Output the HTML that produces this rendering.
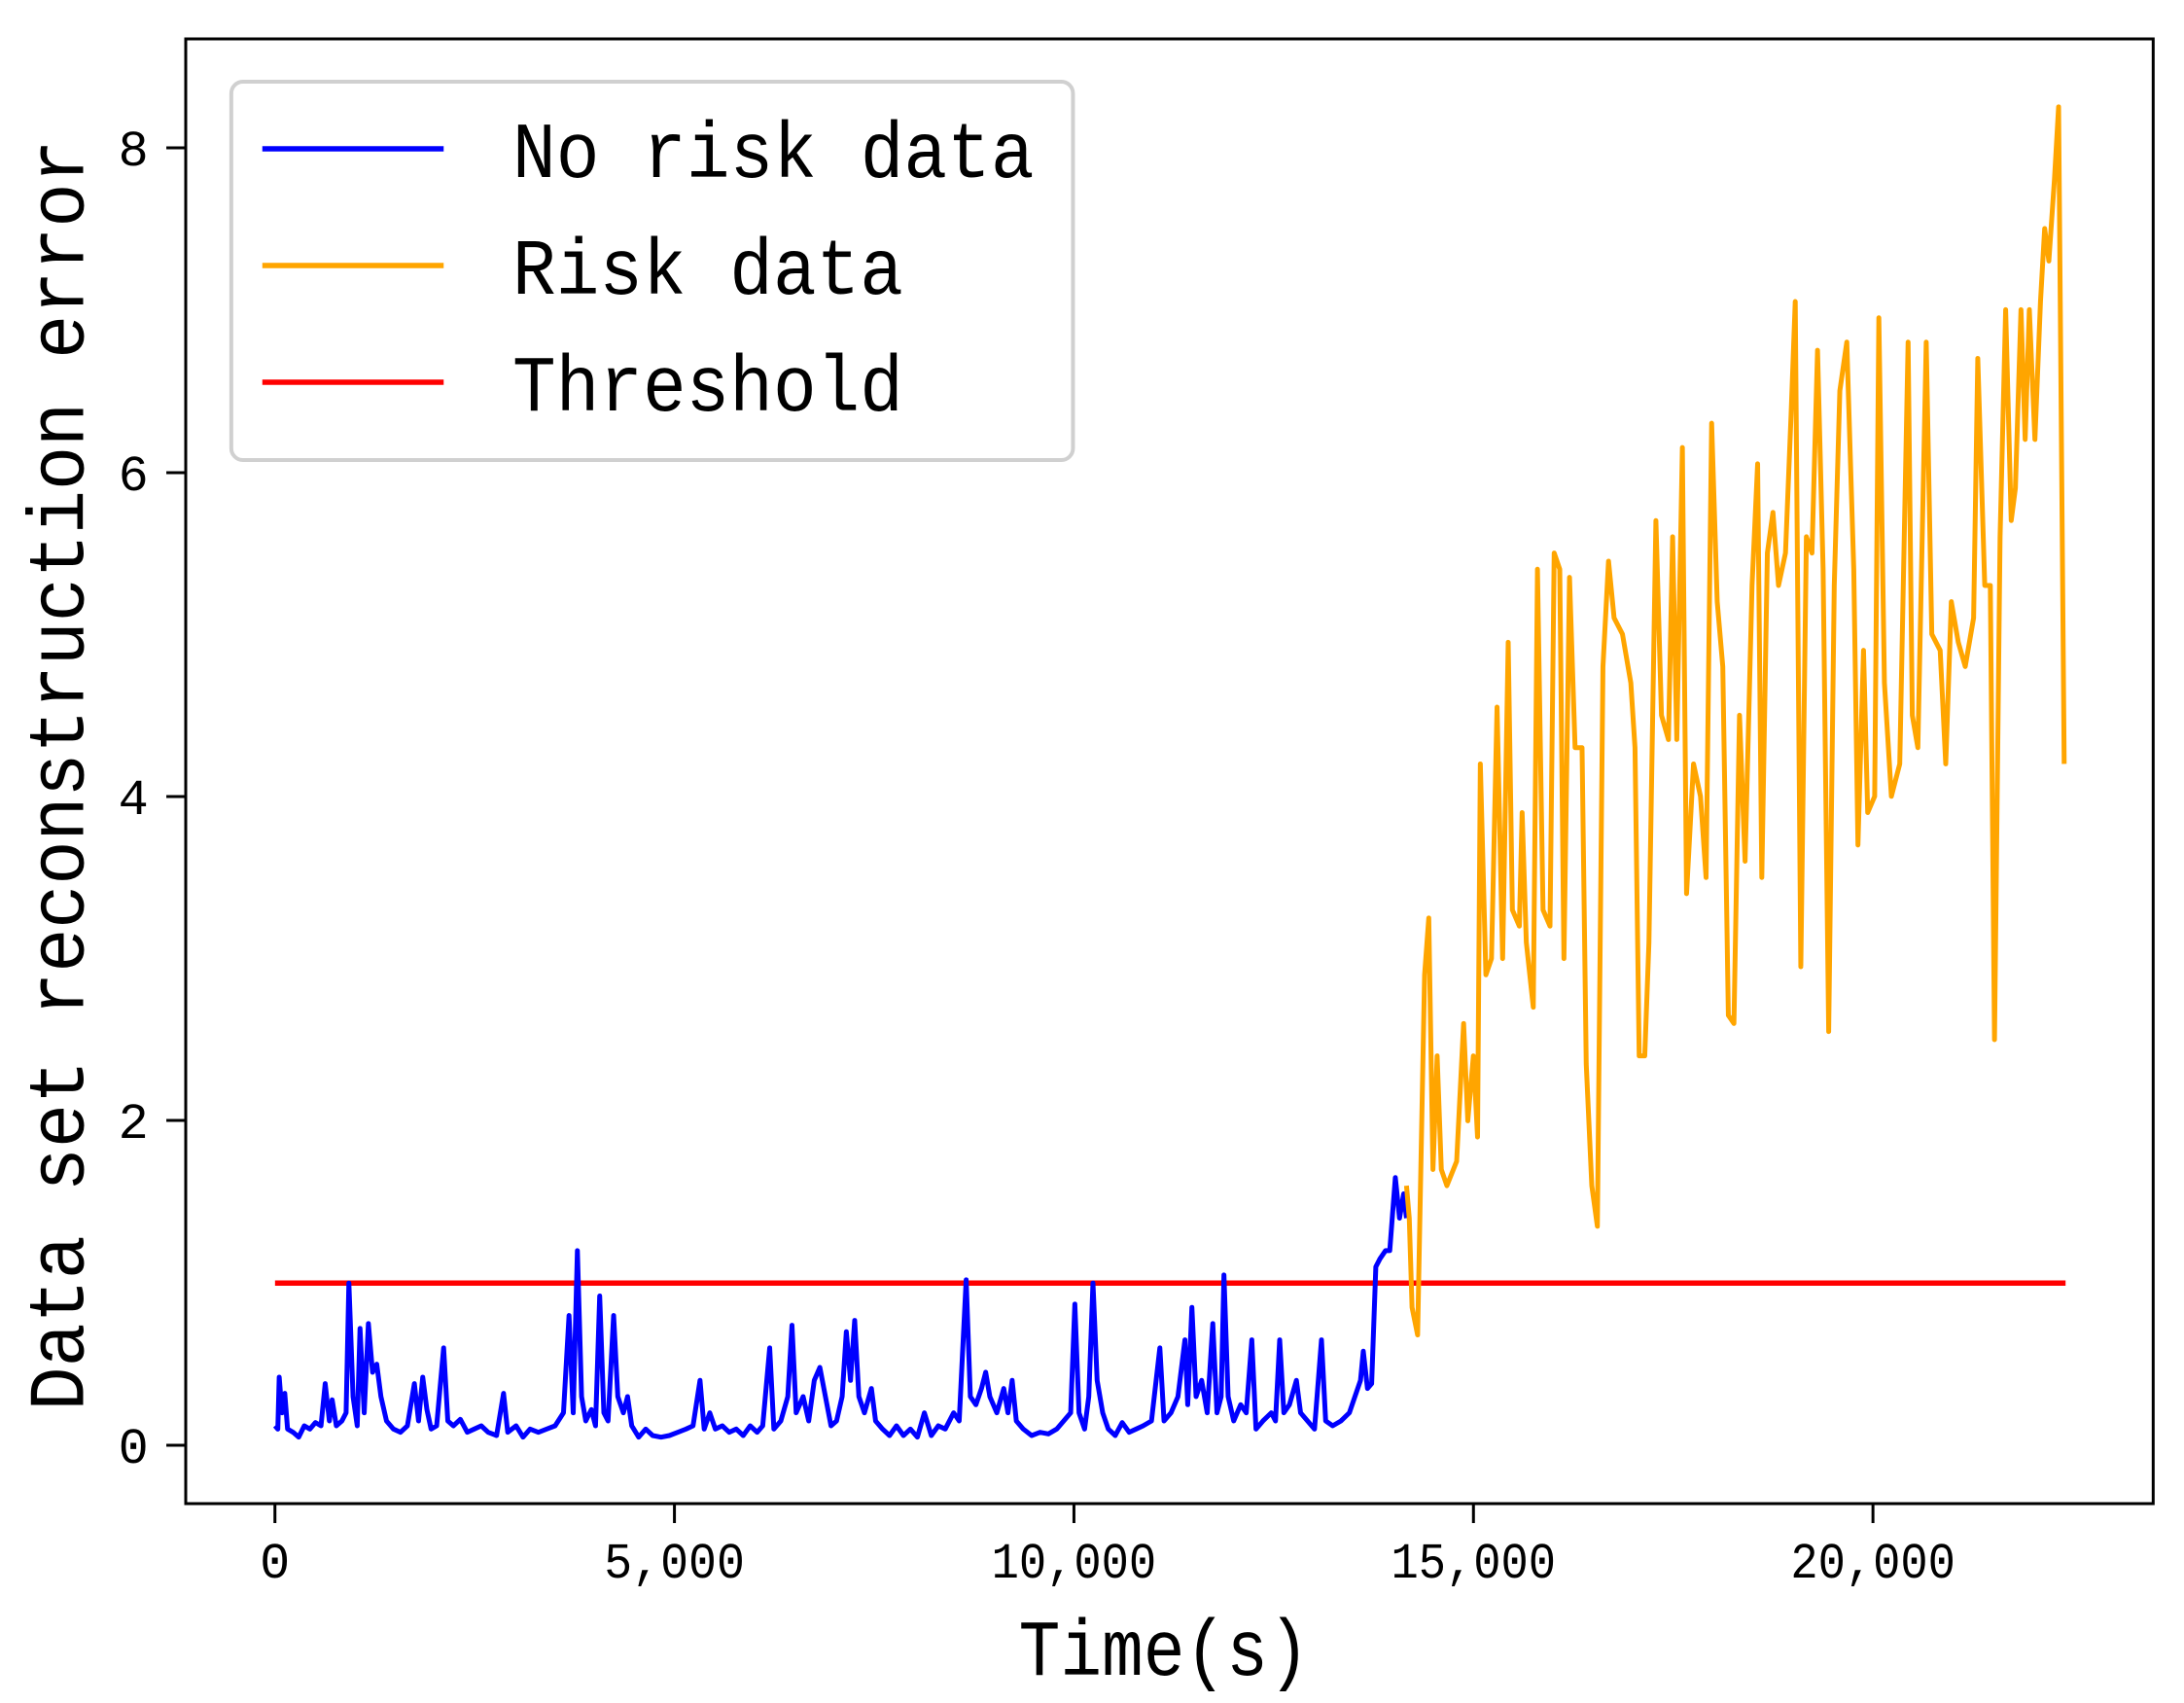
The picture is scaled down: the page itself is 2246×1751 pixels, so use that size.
<!DOCTYPE html>
<html><head><meta charset="utf-8"><style>
html,body{margin:0;padding:0;background:#fff}
svg{display:block}
text{font-family:"Liberation Mono","DejaVu Sans Mono",monospace;fill:#000}
</style></head><body>
<svg width="2246" height="1751" viewBox="0 0 2246 1751" xmlns="http://www.w3.org/2000/svg">
<rect width="2246" height="1751" fill="#fff"/>
<g transform="translate(191,0) scale(0.9972,1) translate(-191,0)">
<g transform="matrix(1.437 0 0 -166.8 0 1486)" fill="none" stroke-linejoin="round">
<polyline points="197,1 1482,1" stroke="#ff0000" stroke-width="5.5" vector-effect="non-scaling-stroke"/>
<polyline stroke="#0000ff" stroke-width="5" vector-effect="non-scaling-stroke" points="197,0.12 199,0.1 200,0.42 202,0.2 204,0.32 206,0.1 210,0.08 214,0.05 218,0.12 222,0.1 226,0.14 230,0.12 233,0.38 236,0.15 238,0.28 241,0.12 245,0.15 248,0.2 250,1.0 253,0.3 256,0.12 258,0.72 261,0.2 264,0.75 267,0.45 270,0.5 273,0.3 277,0.15 282,0.1 287,0.08 292,0.12 297,0.38 300,0.15 303,0.42 306,0.22 309,0.1 313,0.12 318,0.6 321,0.15 325,0.12 330,0.16 335,0.08 340,0.1 345,0.12 350,0.08 356,0.06 361,0.32 364,0.08 370,0.12 375,0.05 380,0.1 386,0.08 392,0.1 398,0.12 404,0.2 408,0.8 411,0.2 414,1.2 417,0.3 420,0.15 424,0.22 427,0.12 430,0.92 433,0.2 436,0.15 440,0.8 443,0.3 447,0.2 450,0.3 453,0.12 458,0.05 463,0.1 468,0.06 474,0.05 480,0.06 486,0.08 492,0.1 497,0.12 502,0.4 505,0.1 509,0.2 513,0.1 518,0.12 523,0.08 528,0.1 533,0.06 538,0.12 543,0.08 547,0.12 552,0.6 555,0.1 560,0.15 565,0.3 568,0.74 571,0.2 576,0.3 580,0.15 584,0.4 588,0.48 592,0.3 596,0.12 600,0.15 604,0.3 607,0.7 610,0.4 613,0.77 616,0.3 620,0.2 625,0.35 628,0.15 633,0.1 638,0.06 643,0.12 648,0.06 653,0.1 658,0.05 663,0.2 668,0.06 673,0.12 678,0.1 684,0.2 688,0.15 693,1.02 696,0.3 700,0.25 704,0.35 707,0.45 710,0.3 715,0.2 720,0.35 723,0.2 726,0.4 729,0.15 734,0.1 740,0.06 746,0.08 752,0.07 758,0.1 763,0.15 768,0.2 771,0.87 774,0.2 778,0.1 781,0.3 784,1.0 787,0.4 791,0.2 795,0.1 800,0.06 805,0.14 810,0.08 815,0.1 820,0.12 826,0.15 832,0.6 835,0.15 840,0.2 845,0.3 850,0.65 852,0.25 855,0.85 858,0.3 862,0.4 866,0.2 870,0.75 873,0.2 876,0.3 878,1.05 881,0.3 885,0.15 890,0.25 894,0.2 898,0.65 901,0.1 906,0.15 912,0.2 915,0.15 918,0.65 921,0.2 925,0.25 930,0.4 933,0.2 938,0.15 943,0.1 948,0.65 951,0.15 956,0.12 962,0.15 968,0.2 972,0.3 976,0.4 978,0.58 981,0.35 984,0.38 987,1.1 990,1.15 994,1.2 997,1.2 1001,1.65 1004,1.4 1007,1.55 1009,1.4"/>
<polyline stroke="#ffa500" stroke-width="5" vector-effect="non-scaling-stroke" points="1009,1.6 1011,1.4 1013,0.85 1017,0.68 1022,2.9 1025,3.25 1028,1.7 1031,2.4 1034,1.7 1038,1.6 1045,1.75 1050,2.6 1053,2.0 1057,2.4 1060,1.9 1062,4.2 1066,2.9 1070,3.0 1074,4.55 1078,3.0 1082,4.95 1085,3.3 1090,3.2 1092,3.9 1095,3.1 1100,2.7 1103,5.4 1107,3.3 1112,3.2 1115,5.5 1119,5.4 1122,3.0 1126,5.35 1130,4.3 1135,4.3 1138,2.35 1142,1.6 1146,1.35 1150,4.8 1154,5.45 1158,5.1 1164,5.0 1170,4.7 1173,4.3 1176,2.4 1180,2.4 1183,3.1 1188,5.7 1192,4.5 1197,4.35 1200,5.6 1203,4.35 1207,6.15 1210,3.4 1215,4.2 1220,4.0 1224,3.5 1228,6.3 1232,5.2 1236,4.8 1240,2.65 1244,2.6 1248,4.5 1252,3.6 1257,5.3 1261,6.05 1264,3.5 1268,5.5 1272,5.75 1276,5.3 1281,5.5 1285,6.35 1288,7.05 1292,2.95 1296,5.6 1300,5.5 1304,6.75 1308,5.4 1312,2.55 1316,5.3 1320,6.5 1325,6.8 1330,5.4 1333,3.7 1337,4.9 1340,3.9 1345,4.0 1348,6.95 1352,4.7 1357,4.0 1363,4.2 1369,6.8 1372,4.5 1376,4.3 1382,6.8 1386,5.0 1392,4.9 1396,4.2 1400,5.2 1405,4.95 1410,4.8 1416,5.1 1419,6.7 1424,5.3 1428,5.3 1431,2.5 1435,5.6 1439,7.0 1443,5.7 1446,5.9 1450,7.0 1453,6.2 1456,7.0 1460,6.2 1464,7.05 1467,7.5 1470,7.3 1474,7.8 1477,8.25 1481,4.2"/>
</g>
<rect x="191" y="40" width="2029" height="1506" fill="none" stroke="#000" stroke-width="3"/>
<g stroke="#000" stroke-width="3">
<line x1="283" y1="1546" x2="283" y2="1566"/><line x1="695" y1="1546" x2="695" y2="1566"/><line x1="1107" y1="1546" x2="1107" y2="1566"/><line x1="1519" y1="1546" x2="1519" y2="1566"/><line x1="1931" y1="1546" x2="1931" y2="1566"/>
<line x1="171" y1="1486" x2="191" y2="1486"/><line x1="171" y1="1152" x2="191" y2="1152"/><line x1="171" y1="819" x2="191" y2="819"/><line x1="171" y1="486" x2="191" y2="486"/><line x1="171" y1="152" x2="191" y2="152"/>
</g>
<g font-size="52" text-anchor="middle">
<text x="283" y="1622">0</text>
<text x="695" y="1622" textLength="145" lengthAdjust="spacingAndGlyphs">5,000</text>
<text x="1107" y="1622" textLength="170" lengthAdjust="spacingAndGlyphs">10,000</text>
<text x="1519" y="1622" textLength="170" lengthAdjust="spacingAndGlyphs">15,000</text>
<text x="1931" y="1622" textLength="170" lengthAdjust="spacingAndGlyphs">20,000</text>
</g>
<g font-size="52" text-anchor="middle">
<text x="137" y="1504">0</text><text x="137" y="1170">2</text><text x="137" y="837">4</text><text x="137" y="504">6</text><text x="137" y="170">8</text>
</g>
<text x="1200" y="1722" font-size="82" text-anchor="middle" textLength="300" lengthAdjust="spacingAndGlyphs">Time(s)</text>
<text transform="translate(85,797) rotate(-90)" font-size="82" text-anchor="middle" textLength="1307" lengthAdjust="spacingAndGlyphs">Data set reconstruction error</text>
<rect x="238" y="84" width="868" height="389" rx="12" fill="#fff" fill-opacity="0.8" stroke="#d0d0d0" stroke-width="4"/>
<line x1="270" y1="153" x2="457" y2="153" stroke="#0000ff" stroke-width="5.5"/>
<line x1="270" y1="273" x2="457" y2="273" stroke="#ffa500" stroke-width="5.5"/>
<line x1="270" y1="393" x2="457" y2="393" stroke="#ff0000" stroke-width="5.5"/>
<g font-size="82">
<text x="528" y="182" textLength="538" lengthAdjust="spacingAndGlyphs">No risk data</text>
<text x="528" y="302" textLength="403" lengthAdjust="spacingAndGlyphs">Risk data</text>
<text x="528" y="422" textLength="403" lengthAdjust="spacingAndGlyphs">Threshold</text>
</g>
</g>
</svg>
</body></html>
